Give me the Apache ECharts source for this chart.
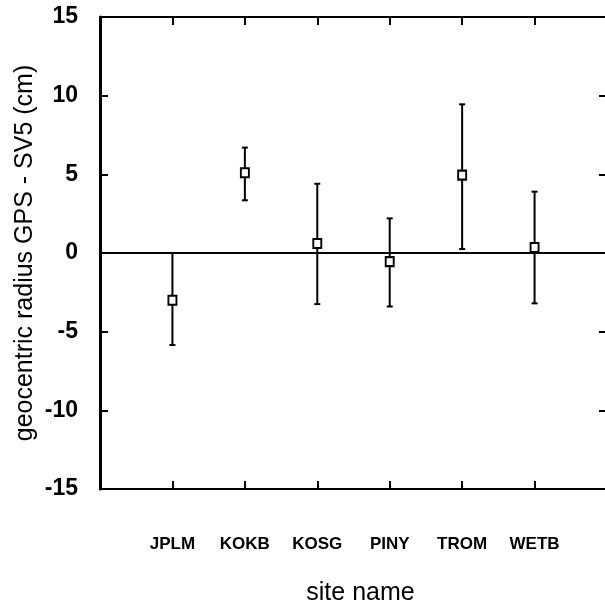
<!DOCTYPE html>
<html lang="en">
<head>
    <meta charset="UTF-8">
    <title>geocentric radius GPS - SV5</title>
    <script src="https://cdn.jsdelivr.net/npm/echarts@6/dist/echarts.min.js"></script>
    <style>
        body { margin: 0; background: #fff; }
        #main { width: 605px; height: 600px; }
    </style>
</head>
<body>
<div id="main"></div>
<script>
// site names, placed at x = 1..6
var sites = ['JPLM', 'KOKB', 'KOSG', 'PINY', 'TROM', 'WETB'];
// difference (cm) and error bar ends
var diff  = [-3.0, 5.1, 0.6, -0.55, 4.95, 0.35];
var lower = [-5.85, 3.35, -3.25, -3.4, 0.25, -3.2];
var upper = [0.0, 6.7, 4.4, 2.2, 9.45, 3.9];
var yTicks = [-15, -10, -5, 0, 5, 10, 15];

var pointData = [];
var barData = [];
for (var i = 0; i < sites.length; i++) {
    pointData.push([i + 1, diff[i]]);
    barData.push([i + 1, lower[i], upper[i]]);
}

var chart = echarts.init(document.getElementById('main'));

function errorBar(params, api) {
    var x = api.value(0);
    var lo = api.coord([x, api.value(1)]);
    var hi = api.coord([x, api.value(2)]);
    var cap = 3;
    var st = { stroke: '#000', lineWidth: 2 };
    return {
        type: 'group',
        children: [
            { type: 'line', shape: { x1: lo[0], y1: lo[1], x2: hi[0], y2: hi[1] }, style: st },
            { type: 'line', shape: { x1: lo[0] - cap, y1: lo[1], x2: lo[0] + cap, y2: lo[1] }, style: st },
            { type: 'line', shape: { x1: hi[0] - cap, y1: hi[1], x2: hi[0] + cap, y2: hi[1] }, style: st }
        ]
    };
}

var tick = { inside: true, length: 8, lineStyle: { color: '#000', width: 2 } };

var option = {
    animation: false,
    grid: { left: 100, top: 17, width: 507, height: 472, outerBoundsMode: 'none', containLabel: false },
    xAxis: [
        {
            type: 'value', min: 0, max: 7, interval: 1,
            name: 'site name', nameLocation: 'middle', nameGap: 92, nameMoveOverlap: false,
            nameTextStyle: { fontFamily: 'Liberation Sans', fontSize: 25, color: '#000', padding: [0, 0, 0, 14] },
            axisLine: { onZero: false, lineStyle: { color: '#000', width: 2 } },
            axisTick: tick,
            splitLine: { show: false },
            axisLabel: {
                margin: 47, fontSize: 17, fontWeight: 'bold', fontFamily: 'Liberation Sans', color: '#000',
                formatter: function (v) { return sites[v - 1] || ''; }
            }
        },
        {
            type: 'value', min: 0, max: 7, interval: 1, position: 'top',
            axisLine: { onZero: false, lineStyle: { color: '#000', width: 2 } },
            axisTick: tick,
            axisLabel: { show: false },
            splitLine: { show: false }
        }
    ],
    yAxis: [
        {
            type: 'value', min: yTicks[0], max: yTicks[yTicks.length - 1], interval: 5,
            name: 'geocentric radius GPS - SV5 (cm)', nameLocation: 'middle', nameGap: 62, nameMoveOverlap: false,
            nameTextStyle: { fontFamily: 'Liberation Sans', fontSize: 25, color: '#000' },
            axisLine: { onZero: false, lineStyle: { color: '#000', width: 3 } },
            axisTick: tick,
            splitLine: { show: false },
            axisLabel: { margin: 22, fontSize: 23, fontWeight: 'bold', fontFamily: 'Liberation Sans', color: '#000' }
        },
        {
            type: 'value', min: yTicks[0], max: yTicks[yTicks.length - 1], interval: 5, position: 'right',
            axisLine: { onZero: false, lineStyle: { color: '#000', width: 2 } },
            axisTick: tick,
            axisLabel: { show: false },
            splitLine: { show: false }
        }
    ],
    series: [
        {
            type: 'custom',
            renderItem: errorBar,
            data: barData,
            z: 2
        },
        {
            type: 'scatter',
            data: pointData,
            symbol: 'rect',
            symbolSize: [8, 9],
            itemStyle: { color: '#fff', borderColor: '#000', borderWidth: 2, opacity: 1 },
            z: 3,
            markLine: {
                silent: true,
                symbol: 'none',
                label: { show: false },
                lineStyle: { color: '#000', width: 2, type: 'solid' },
                data: [{ yAxis: 0 }]
            }
        }
    ]
};
chart.setOption(option);
</script>
</body>
</html>
